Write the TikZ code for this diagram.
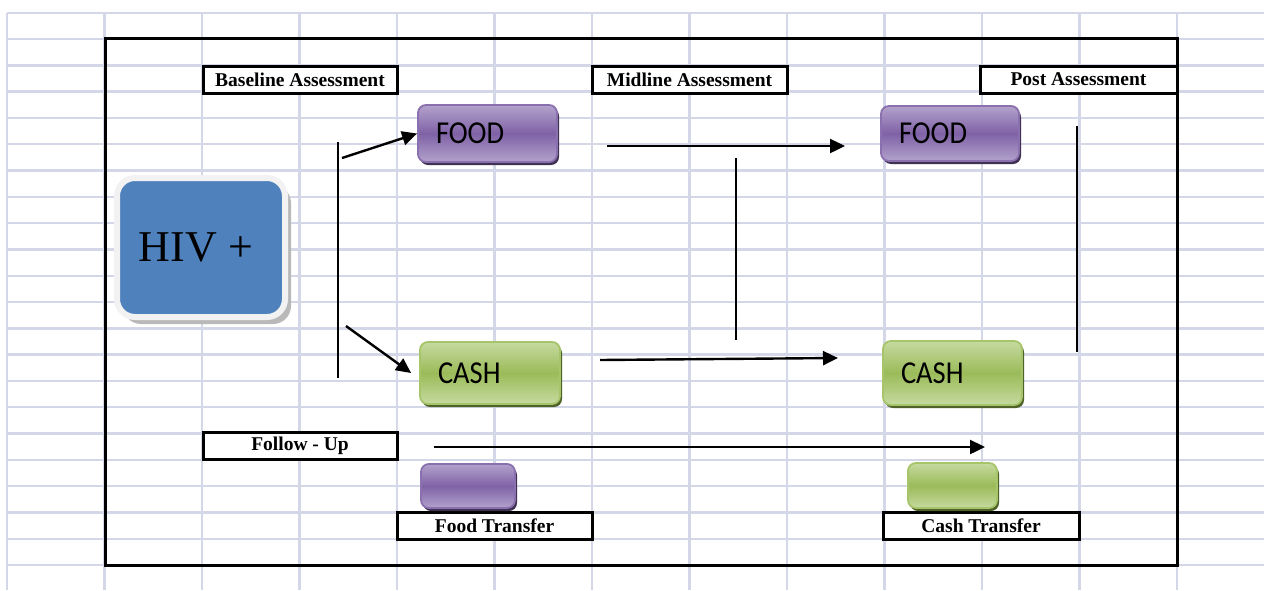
\documentclass[tikz,border=0pt]{standalone}
\usepackage{fontspec}
\setmainfont{Liberation Serif}
\newfontfamily\btnfont{Carlito}
\usetikzlibrary{arrows.meta,shadows,positioning}

\definecolor{gridblue}{HTML}{D3D7E8}
\definecolor{hivblue}{HTML}{4F81BD}
\definecolor{hivrim}{HTML}{F2F2F2}
\definecolor{foodlt}{HTML}{B3A2CC}
\definecolor{foodmid}{HTML}{7F62A6}
\definecolor{foodedge}{HTML}{8A70AE}
\definecolor{fooddk}{HTML}{3F3151}
\definecolor{cashlt}{HTML}{C6DAA0}
\definecolor{cashmid}{HTML}{9BBB59}
\definecolor{cashedge}{HTML}{A6C46A}
\definecolor{cashdk}{HTML}{4F6228}

\begin{document}
\begin{tikzpicture}[x=1pt,y=-1pt,>={Triangle[length=15pt,width=14pt]},line width=2.4pt,
    gridline/.style={draw=gridblue,line width=2.4pt},
    tag/.style={draw=black,line width=3pt,fill=white,inner sep=0pt,minimum height=27pt,
                font=\fontsize{19.5}{22}\selectfont\bfseries},
    btn/.style={rounded corners=8pt,line width=1.8pt,inner ysep=0pt,inner xsep=18pt,
                align=left,font=\btnfont\fontsize{28.5}{30}\selectfont},
    foodbtn/.style={btn,draw=foodedge,top color=foodlt,bottom color=foodlt,middle color=foodmid,
                drop shadow={shadow xshift=2pt,shadow yshift=-3pt,fill=fooddk,opacity=1}},
    cashbtn/.style={btn,draw=cashedge,top color=cashlt,bottom color=cashlt,middle color=cashmid,
                drop shadow={shadow xshift=2pt,shadow yshift=-3pt,fill=cashdk,opacity=1}},
    node distance=462.5pt]

  \useasboundingbox (0,0) rectangle (1264,590);

  % spreadsheet grid
  \foreach \k in {0,...,21}
    \draw[gridline] (7,12.7+26.3*\k) -- (1264,12.7+26.3*\k);
  \foreach \k in {0,...,12}
    \draw[gridline] (7+97.5*\k,12.7) -- (7+97.5*\k,590);

  % frame
  \draw[line width=3pt] (105,38) rectangle (1177,565);

  % headings
  \node[tag,minimum width=194pt] (base) at (300,79.5) {Baseline Assessment};
  \node[tag,minimum width=195pt] (mid) at (689.5,79.5) {Midline Assessment};
  \node[tag,minimum width=197pt] (post) at (1078.5,79.5) {Post Assessment};
  \node[tag,minimum width=194pt] (follow) at (300,445.5) {Follow - Up};
  \node[tag,minimum width=195pt] (foodtag) at (494.5,525.5) {Food Transfer};
  \node[tag,minimum width=196pt] (cashtag) at (981,525.5) {Cash Transfer};

  % HIV box
  \node[fill=hivblue,draw=hivrim,line width=6pt,rounded corners=18pt,
        minimum width=168pt,minimum height=139pt,
        drop shadow={shadow xshift=6pt,shadow yshift=-7pt,fill=gray!55,opacity=1},
        font=\fontsize{44}{48}\selectfont] (hiv) at (201,247.5) {\hspace*{-10pt}HIV +};

  % transfer buttons
  \node[foodbtn,text width=103pt,minimum height=57pt] (food1) at (487.5,133.5) {\scalebox{1}[1.12]{FOOD}};
  \node[foodbtn,text width=102pt,minimum height=55pt] (food2) [right=of food1.center,anchor=center] {\scalebox{1}[1.12]{FOOD}};
  \node[cashbtn,text width=104pt,minimum height=62pt] (cash1) at (490,373) {\scalebox{1}[1.12]{CASH}};
  \node[cashbtn,text width=103pt,minimum height=64pt] (cash2) [right=of cash1.center,anchor=center] {\scalebox{1}[1.12]{CASH}};
  \node[foodbtn,inner xsep=0pt,minimum width=94pt,minimum height=44pt] (foodkey) at (468,486) {};
  \node[cashbtn,inner xsep=0pt,minimum width=89pt,minimum height=45pt] (cashkey) at (952.5,485.5) {};

  % connectors
  \coordinate (forktop) at (338,142);
  \coordinate (forkbot) at (338,378);
  \coordinate (upstart) at (342,158);
  \coordinate (downstart) at (346,326);
  \coordinate (midtopstart) at (607,146);
  \coordinate (midtopend) at (845,146);
  \coordinate (midbotstart) at (600,360);
  \coordinate (midbotend) at (838,358);
  \coordinate (midbartop) at (736,158);
  \coordinate (midbarbot) at (736,340);
  \coordinate (postbartop) at (1077,126);
  \coordinate (postbarbot) at (1077,352);
  \coordinate (followstart) at (434,447);
  \coordinate (followend) at (985,447);

  \draw (forktop) -- (forkbot);
  \draw (midbartop) -- (midbarbot);
  \draw (postbartop) -- (postbarbot);
  \draw[->] (upstart) -- (food1.west);
  \draw[->] (downstart) -- ([xshift=-8pt]cash1.west);
  \draw[->] (midtopstart) -- (midtopend);
  \draw[->] (midbotstart) -- (midbotend);
  \draw[->] (followstart) -- (followend);
\end{tikzpicture}
\end{document}
